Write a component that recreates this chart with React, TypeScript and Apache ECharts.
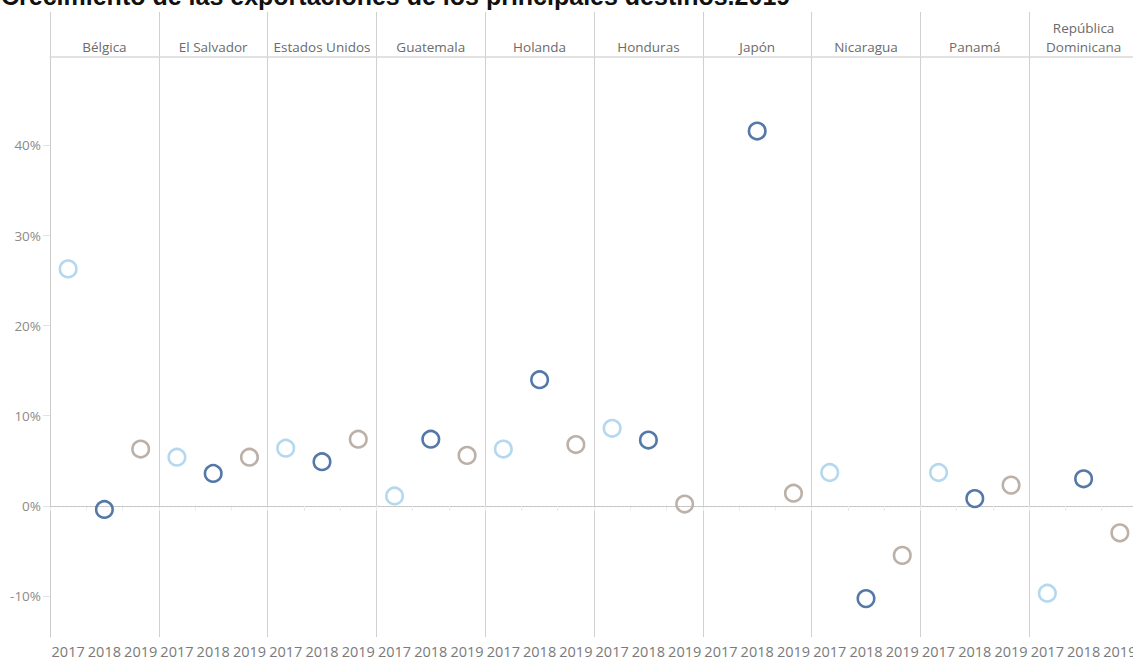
import React, { useEffect, useRef } from "react";
import * as echarts from "echarts";

const TITLE = "Crecimiento de las exportaciones de los principales destinos.2019";
const countries = [
  "Bélgica",
  "El Salvador",
  "Estados Unidos",
  "Guatemala",
  "Holanda",
  "Honduras",
  "Japón",
  "Nicaragua",
  "Panamá",
  "República Dominicana",
];
const years = ["2017", "2018", "2019"];
// growth in % per country, one array per year
const growth2017 = [26.3, 5.4, 6.4, 1.1, 6.3, 8.6, null, 3.7, 3.7, -9.7];
const growth2018 = [-0.4, 3.6, 4.9, 7.4, 14.0, 7.3, 41.6, -10.3, 0.8, 3.0];
const growth2019 = [6.3, 5.4, 7.4, 5.6, 6.8, 0.2, 1.4, -5.5, 2.3, -3.0];
const yearColors = ["#b4d8ef", "#5478a8", "#bcb1a9"];

const seriesValues = [growth2017, growth2018, growth2019];

export default function App() {
  const ref = useRef<HTMLDivElement>(null);
  useEffect(() => {
    document.body.style.margin = "0";
    if (!ref.current) return;
    const chart = echarts.init(ref.current, undefined, { renderer: "svg" });

    const categories: string[] = [];
    countries.forEach((c) => years.forEach((y) => categories.push(c + "|" + y)));

    const series: any[] = years.map((yr, j) => ({
      type: "scatter",
      name: yr,
      xAxisIndex: 0,
      yAxisIndex: 0,
      symbol: "circle",
      symbolSize: 16.5,
      itemStyle: {
        color: "rgba(255,255,255,0)",
        borderColor: yearColors[j],
        borderWidth: 2.6,
        opacity: 1,
      },
      data: countries
        .map((c, i) => [c + "|" + yr, seriesValues[j][i]])
        .filter((d) => d[1] !== null),
      z: 5,
    }));
    series.push({
      type: "line",
      xAxisIndex: 0,
      yAxisIndex: 0,
      data: [],
      markLine: {
        silent: true,
        symbol: ["none", "none"],
        label: { show: false },
        lineStyle: { type: [2, 2], color: "#c4c4c4", width: 1 },
        data: [{ yAxis: 0 }],
      },
      z: 1,
    });

    chart.setOption({
      animation: false,
      backgroundColor: "#ffffff",
      textStyle: { fontFamily: "Open Sans" },
      graphic: [
        {
          type: "text",
          x: 1,
          y: 8,
          style: {
            text: TITLE,
            fill: "#111111",
            font: "bold 25px 'Liberation Sans'",
            verticalAlign: "bottom",
            align: "left",
          },
        },
      ],
      grid: [
        { left: 50, top: 57, width: 1088, height: 580, containLabel: false },
        { left: 50, top: 12, width: 1088, height: 45, containLabel: false },
      ],
      xAxis: [
        {
          gridIndex: 0,
          type: "category",
          data: categories,
          boundaryGap: true,
          axisLine: { show: true, lineStyle: { color: "#cccccc", width: 1 } },
          axisTick: {
            show: true,
            interval: 0,
            length: 5,
            lineStyle: { color: "#ececec" },
          },
          axisLabel: {
            interval: 0,
            margin: 7,
            color: "#7a7a7a",
            fontSize: 14.5,
            fontFamily: "Open Sans",
            formatter: (v: string) => v.split("|")[1],
          },
          splitLine: {
            show: true,
            interval: (index: number) => index % 3 === 0,
            lineStyle: { color: "#d0d0d0", width: 1 },
          },
        },
        {
          gridIndex: 1,
          type: "category",
          data: countries,
          boundaryGap: true,
          position: "bottom",
          axisLine: { show: true, lineStyle: { color: "#d9d9d9", width: 1.5 } },
          axisTick: { show: false },
          axisLabel: {
            inside: true,
            interval: 0,
            margin: 1,
            color: "#6b6b6b",
            fontSize: 13.5,
            lineHeight: 19,
            fontFamily: "Open Sans",
            formatter: (v: string) => (v.length > 16 ? v.replace(" ", "\n") : v),
          },
          splitLine: {
            show: true,
            interval: 0,
            lineStyle: { color: "#d0d0d0", width: 1 },
          },
        },
      ],
      yAxis: [
        {
          gridIndex: 0,
          type: "value",
          min: -14.56,
          max: 49.82,
          minInterval: 10,
          maxInterval: 10,
          axisLine: { show: true, lineStyle: { color: "#cccccc", width: 1 } },
          axisTick: { show: true, length: 7, lineStyle: { color: "#e2e2e2" } },
          axisLabel: {
            margin: 9,
            color: "#8a8a8a",
            fontSize: 13.5,
            fontFamily: "Open Sans",
            showMinLabel: false,
            showMaxLabel: false,
            formatter: (v: number) =>
              Math.abs(v - Math.round(v / 10) * 10) < 1e-6 ? Math.round(v) + "%" : "",
          },
          splitLine: { show: false },
        },
        {
          gridIndex: 1,
          type: "value",
          show: false,
        },
      ],
      series,
    });
    return () => chart.dispose();
  }, []);
  return (
    <div style={{ width: 1133, height: 659, overflow: "hidden" }}>
      <div ref={ref} style={{ width: 1142, height: 659 }} />
    </div>
  );
}
